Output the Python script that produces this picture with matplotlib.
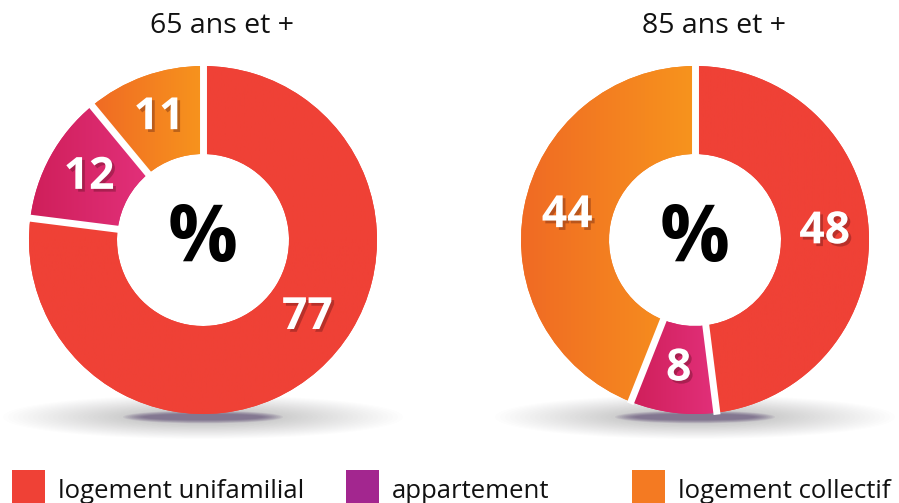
"""
Type de logement des personnes âgées, 65 ans et + / 85 ans et +.
Two donut charts with a soft shadow and a shared legend underneath.
"""

import numpy as np
import matplotlib.pyplot as plt
import matplotlib.patheffects as pe
from matplotlib.colors import LinearSegmentedColormap
from matplotlib.patches import Ellipse, Rectangle

# Data
categories = ["logement unifamilial", "appartement", "logement collectif"]
groups = ["65 ans et +", "85 ans et +"]
values_65 = [77, 12, 11]
values_85 = [48, 8, 44]

# Colours: solid fallback + left/right gradient stops for each wedge
solid = ["#ef4136", "#d82566", "#f58025"]
grad = [("#ef4136", "#ef4136"), ("#cf1f5a", "#e2307a"), ("#f06a24", "#f7941d")]
legend_colors = ["#ef4136", "#a3268f", "#f47a22"]

W, H = 899, 503
fig = plt.figure(figsize=(W / 100, H / 100), dpi=100)
ax = fig.add_axes([0, 0, 1, 1])

R_OUT, R_IN = 174, 86
centers = [(203, H - 240), (695, H - 240)]
label_shift = [[12, 0, 0], [0, 0, 0]]  # degrees, nudges label along the ring


def shadow(cx, cy):
    # many stacked low-alpha ellipses to fake a blur
    for k in np.linspace(0, 1, 25):
        ax.add_patch(Ellipse((cx, cy), 400 - 240 * k, 44 - 28 * k,
                             color="#6b5a7a", alpha=0.012, lw=0, zorder=1))
    for k in np.linspace(0, 1, 10):
        ax.add_patch(Ellipse((cx, cy), 160 - 40 * k, 13 - 7 * k,
                             color="#4e3866", alpha=0.08, lw=0, zorder=1))


def donut(vals, center, shifts):
    cx, cy = center
    shadow(cx, cy - 177)
    wedges, _ = ax.pie(
        vals,
        colors=solid,
        startangle=90,
        counterclock=False,
        radius=R_OUT,
        center=center,
        wedgeprops=dict(width=R_OUT - R_IN, linewidth=0),
    )
    for w, (c0, c1) in zip(wedges, grad):
        w.set_zorder(2)
        bb = w.get_path().get_extents(w.get_transform() - ax.transData)
        cmap = LinearSegmentedColormap.from_list("g", [c0, c1])
        im = ax.imshow(
            np.linspace(0, 1, 256).reshape(1, -1),
            cmap=cmap,
            extent=[bb.x0, bb.x1, bb.y0, bb.y1],
            aspect="auto",
            zorder=3,
        )
        im.set_clip_path(w)

    # white gaps between wedges
    for w in wedges:
        a = np.deg2rad(w.theta1)
        ax.plot(
            [cx + (R_IN - 2) * np.cos(a), cx + (R_OUT + 2) * np.cos(a)],
            [cy + (R_IN - 2) * np.sin(a), cy + (R_OUT + 2) * np.sin(a)],
            color="white", lw=5, solid_capstyle="butt", zorder=4,
        )

    # value labels
    r_lab = (R_OUT + R_IN) / 2
    for w, v, s in zip(wedges, vals, shifts):
        mid = np.deg2rad((w.theta1 + w.theta2) / 2 + s)
        ax.text(
            cx + r_lab * np.cos(mid), cy + r_lab * np.sin(mid), str(v),
            ha="center", va="center", color="white", fontsize=32,
            fontweight="bold", family="Open Sans", zorder=5,
            path_effects=[pe.SimplePatchShadow(offset=(2, -2), shadow_rgbFace="#3a0a10", alpha=0.3), pe.Normal()],
        )
    ax.text(cx, cy, "%", ha="center", va="center", fontsize=56,
            fontweight="bold", family="Open Sans", color="black", zorder=5)


donut(values_65, centers[0], label_shift[0])
donut(values_85, centers[1], label_shift[1])

# Titles
for (cx, cy), g in zip(centers, groups):
    ax.text(cx + 19.5, H - 26, g, ha="center", va="center", fontsize=20.5,
            family="Open Sans", color="#111111")

# Legend
legend_x = [12, 346, 632]
for x, c, lab in zip(legend_x, legend_colors, categories):
    ax.add_patch(Rectangle((x, 0), 33, 33, color=c, lw=0, zorder=5))
    ax.text(x + 46, 12, lab, ha="left", va="center", fontsize=18.5,
            family="Open Sans", color="#111111")

ax.set_xlim(0, W)
ax.set_ylim(0, H)
ax.set_aspect("auto")
ax.axis("off")

plt.savefig("out.png", dpi=100)
